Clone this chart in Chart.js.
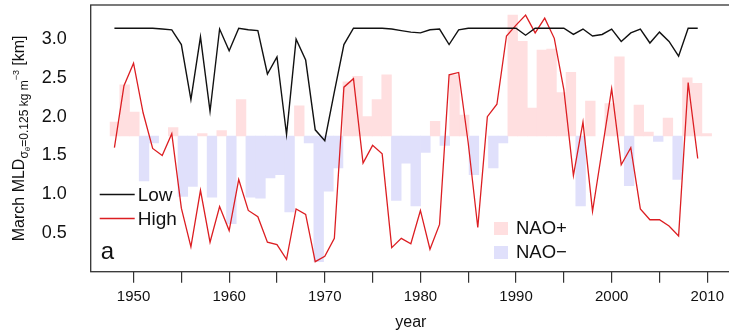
<!DOCTYPE html>
<html>
<head>
<meta charset="utf-8">
<script src="https://cdn.jsdelivr.net/npm/chart.js@4.4.1/dist/chart.umd.min.js"></script>
<style>
  html, body { margin: 0; padding: 0; background: #fff; overflow: hidden; }
  #wrap { width: 741px; height: 335px; }
</style>
</head>
<body>
<div id="wrap"><canvas id="mldChart" width="741" height="335"></canvas></div>
<script>
// March mixed layer depth, low and high scenarios, with NAO phase bars
const years = [1948, 1949, 1950, 1951, 1952, 1953, 1954, 1955, 1956, 1957,
  1958, 1959, 1960, 1961, 1962, 1963, 1964, 1965, 1966, 1967,
  1968, 1969, 1970, 1971, 1972, 1973, 1974, 1975, 1976, 1977,
  1978, 1979, 1980, 1981, 1982, 1983, 1984, 1985, 1986, 1987,
  1988, 1989, 1990, 1991, 1992, 1993, 1994, 1995, 1996, 1997,
  1998, 1999, 2000, 2001, 2002, 2003, 2004, 2005, 2006, 2007,
  2008, 2009];

const lowMld = [3.14, 3.14, 3.14, 3.14, 3.14, 3.13, 3.12, 2.93, 2.22, 3.03,
  2.07, 3.13, 2.85, 3.14, 3.12, 3.11, 2.55, 2.77, 1.77, 3.00,
  2.73, 1.83, 1.69, 2.32, 2.93, 3.14, 3.14, 3.14, 3.14, 3.13,
  3.11, 3.09, 3.08, 3.12, 3.13, 2.93, 3.12, 3.14, 3.14, 3.14,
  3.14, 3.14, 3.14, 3.05, 3.14, 3.14, 3.14, 3.14, 3.06, 3.13,
  3.04, 3.06, 3.13, 2.97, 3.08, 3.13, 2.95, 3.09, 2.97, 2.78,
  3.14, 3.14];

const highMld = [1.60, 2.40, 2.69, 2.05, 1.59, 1.50, 1.78, 0.82, 0.32, 1.05,
  0.38, 0.84, 0.53, 1.19, 0.79, 0.71, 0.38, 0.35, 0.16, 0.81,
  0.74, 0.13, 0.20, 0.43, 2.38, 2.49, 1.40, 1.63, 1.52, 0.31,
  0.43, 0.36, 0.79, 0.29, 0.61, 2.54, 2.57, 1.66, 0.57, 2.00,
  2.16, 3.04, 3.18, 3.31, 3.08, 3.27, 3.01, 2.35, 1.24, 1.93,
  0.78, 1.57, 2.36, 1.38, 1.60, 0.81, 0.67, 0.67, 0.59, 0.46,
  2.44, 1.46];

// NAO bars, tip value on the MLD axis, drawn from the 1.75 baseline
const naoBase = 1.75;
const naoTip = [1.93, 2.41, 2.06, 1.17, 1.66, 1.75, 1.86, 0.97, 1.10, 1.78,
  0.96, 1.82, 0.62, 2.22, 0.96, 0.95, 1.21, 1.25, 0.77, 2.14,
  1.66, 0.13, 1.04, 1.34, 2.45, 2.52, 2.00, 2.22, 2.54, 0.92,
  1.40, 0.85, 1.54, 1.94, 1.63, 2.54, 2.02, 1.25, 1.75, 1.34,
  1.66, 3.31, 2.97, 2.11, 2.86, 2.87, 2.31, 2.57, 0.85, 2.20,
  1.75, 2.17, 2.77, 1.11, 2.15, 1.80, 1.68, 1.98, 1.19, 2.50,
  2.43, 1.78];

const yTicks = [0.5, 1.0, 1.5, 2.0, 2.5, 3.0];

const PINK = '#ffdfe0';
const BLUE = '#e0e0fb';
const RED = '#dc1e22';
const FONT = "'Liberation Sans', Arial, sans-serif";

const naoPos = naoTip.map((v, i) => ({ x: i + 0.5, y: [naoBase, v] })).filter(d => d.y[1] > naoBase);
const naoNeg = naoTip.map((v, i) => ({ x: i + 0.5, y: [naoBase, v] })).filter(d => d.y[1] < naoBase);

const decor = {
    id: 'decor',
    afterDraw(chart) {
        const { ctx, chartArea: a } = chart;
        ctx.save();
        // plot box
        ctx.strokeStyle = '#333';
        ctx.lineWidth = 1.3;
        ctx.strokeRect(a.left, a.top, a.right - a.left, a.bottom - a.top);

        // line legend
        ctx.font = '19px ' + FONT;
        ctx.textBaseline = 'middle';
        ctx.textAlign = 'left';
        [['Low', '#111', 194.5], ['High', RED, 218.5]].forEach(([txt, col, y]) => {
            ctx.strokeStyle = col;
            ctx.lineWidth = 1.3;
            ctx.beginPath();
            ctx.moveTo(a.left + 9, y);
            ctx.lineTo(a.left + 44, y);
            ctx.stroke();
            ctx.fillStyle = '#111';
            ctx.fillText(txt, a.left + 47, y + 1);
        });

        // bar legend
        ctx.font = '18.5px ' + FONT;
        [['NAO+', PINK, 222], ['NAO\u2212', BLUE, 246]].forEach(([txt, col, y]) => {
            ctx.fillStyle = col;
            ctx.fillRect(494, y, 14, 13);
            ctx.fillStyle = '#111';
            ctx.fillText(txt, 516, y + 7);
        });

        // panel letter
        ctx.font = '24px ' + FONT;
        ctx.textBaseline = 'alphabetic';
        ctx.fillText('a', a.left + 10, 259);

        // x axis title
        ctx.font = '16px ' + FONT;
        ctx.textAlign = 'center';
        ctx.textBaseline = 'middle';
        ctx.fillText('year', (a.left + a.right) / 2, 323);

        // y axis title with subscript / superscript
        const parts = [
            ['March MLD', 16, 0],
            ['\u03c3', 12, 4],
            ['\u03b8', 8, 6],
            ['=0.125 kg m', 12, 4],
            ['\u22123', 9, -5],
            [' [km]', 16, 0]
        ];
        let total = 0;
        parts.forEach(p => { ctx.font = p[1] + 'px ' + FONT; total += ctx.measureText(p[0]).width; });
        ctx.translate(24, (a.top + a.bottom) / 2);
        ctx.rotate(-Math.PI / 2);
        ctx.textAlign = 'left';
        ctx.textBaseline = 'alphabetic';
        let x = -total / 2;
        parts.forEach(([txt, size, dy]) => {
            ctx.font = size + 'px ' + FONT;
            ctx.fillText(txt, x, dy);
            x += ctx.measureText(txt).width;
        });
        ctx.restore();
    }
};

new Chart(document.getElementById('mldChart'), {
    type: 'line',
    data: {
        datasets: [
            {
                label: 'Low',
                data: years.map((yr, i) => ({ x: yr, y: lowMld[i] })),
                borderColor: '#111',
                borderWidth: 1.4,
                pointRadius: 0,
                tension: 0,
                order: 0
            },
            {
                label: 'High',
                data: years.map((yr, i) => ({ x: yr, y: highMld[i] })),
                borderColor: RED,
                borderWidth: 1.3,
                pointRadius: 0,
                tension: 0,
                order: 0
            },
            {
                type: 'bar',
                label: 'NAO+',
                data: naoPos,
                xAxisID: 'xb',
                backgroundColor: PINK,
                borderWidth: 0,
                barPercentage: 1,
                categoryPercentage: 1,
                grouped: false,
                order: 1
            },
            {
                type: 'bar',
                label: 'NAO\u2212',
                data: naoNeg,
                xAxisID: 'xb',
                backgroundColor: BLUE,
                borderWidth: 0,
                barPercentage: 1,
                categoryPercentage: 1,
                grouped: false,
                order: 1
            }
        ]
    },
    options: {
        responsive: false,
        animation: false,
        events: [],
        layout: { padding: { left: 0, right: 10, top: 5, bottom: 0 } },
        plugins: { legend: { display: false }, tooltip: { enabled: false } },
        scales: {
            x: {
                type: 'linear',
                position: 'bottom',
                min: 1945.52,
                max: 2012.48,
                offset: false,
                border: { display: false },
                grid: { drawOnChartArea: false, drawTicks: true, tickLength: 11, color: '#333', lineWidth: 1.2 },
                ticks: {
                    stepSize: 5,
                    includeBounds: false,
                    autoSkip: false,
                    maxRotation: 0,
                    padding: 5,
                    color: '#111',
                    font: { family: FONT, size: 15 },
                    callback: v => (v % 10 === 0 ? String(v) : '')
                },
                afterFit: s => { s.height = 63.3; s.paddingLeft = 0; s.paddingRight = 0; }
            },
            xb: {
                type: 'linear',
                position: 'bottom',
                display: false,
                offset: false,
                min: -2,
                max: 64
            },
            y: {
                type: 'linear',
                min: 0,
                max: 3.44,
                border: { display: false },
                grid: { display: false, drawTicks: false },
                afterBuildTicks: s => { s.ticks = yTicks.map(v => ({ value: v })); },
                ticks: {
                    padding: 24,
                    color: '#111',
                    font: { family: FONT, size: 18 },
                    callback: v => v.toFixed(1)
                },
                afterFit: s => { s.width = 90.7; s.paddingTop = 0; s.paddingBottom = 0; }
            }
        }
    },
    plugins: [decor]
});
</script>
</body>
</html>
